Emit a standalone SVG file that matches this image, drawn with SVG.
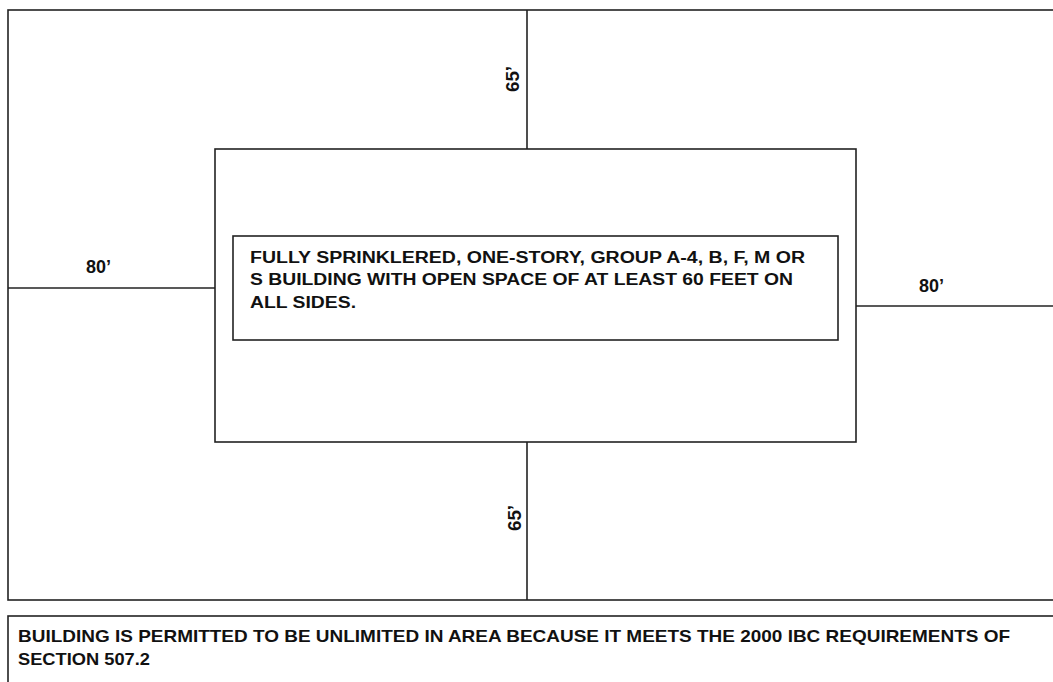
<svg xmlns="http://www.w3.org/2000/svg" width="1053" height="682" viewBox="0 0 1053 682">
<style>
.ln{stroke:#222;stroke-width:1.6;fill:none}
.bx{stroke:#222;stroke-width:1.6;fill:#fff}
.t{font-family:"Liberation Sans",Arial,sans-serif;font-weight:bold;fill:#111;font-size:16px}
.c{font-family:"Liberation Sans",Arial,sans-serif;font-weight:bold;fill:#111;font-size:17px}
.d{font-family:"Liberation Sans",Arial,sans-serif;font-weight:bold;fill:#111;font-size:18px}
</style>
<rect width="1053" height="682" fill="#fff"/>
<g id="site">
<rect class="bx" x="8" y="10" width="1060" height="590"/>
</g>
<g id="connectors">
<line class="ln" x1="527" y1="10" x2="527" y2="149"/>
<line class="ln" x1="527" y1="442" x2="527" y2="600"/>
<line class="ln" x1="8" y1="288" x2="215" y2="288"/>
<line class="ln" x1="856" y1="306" x2="1053" y2="306"/>
</g>
<g id="building">
<rect class="bx" x="215" y="149" width="641" height="293"/>
</g>
<g id="building-note">
<rect class="bx" x="233" y="236" width="605" height="104"/>
<text class="t" x="250" y="263" textLength="555" lengthAdjust="spacingAndGlyphs">FULLY SPRINKLERED, ONE-STORY, GROUP A-4, B, F, M OR</text>
<text class="t" x="250" y="285" textLength="543" lengthAdjust="spacingAndGlyphs">S BUILDING WITH OPEN SPACE OF AT LEAST 60 FEET ON</text>
<text class="t" x="250" y="308" textLength="106" lengthAdjust="spacingAndGlyphs">ALL SIDES.</text>
</g>
<g id="dims">
<text class="d" transform="translate(519,79) rotate(-90)" text-anchor="middle" textLength="26" lengthAdjust="spacingAndGlyphs">65’</text>
<text class="d" transform="translate(521,518) rotate(-90)" text-anchor="middle" textLength="26" lengthAdjust="spacingAndGlyphs">65’</text>
<text class="d" x="86" y="273" textLength="25" lengthAdjust="spacingAndGlyphs">80’</text>
<text class="d" x="919" y="292" textLength="25" lengthAdjust="spacingAndGlyphs">80’</text>
</g>
<g id="caption">
<rect class="bx" x="8" y="616" width="1060" height="80"/>
<text class="c" x="18" y="642" textLength="992" lengthAdjust="spacingAndGlyphs">BUILDING IS PERMITTED TO BE UNLIMITED IN AREA BECAUSE IT MEETS THE 2000 IBC REQUIREMENTS OF</text>
<text class="c" x="18" y="665" textLength="132" lengthAdjust="spacingAndGlyphs">SECTION 507.2</text>
</g>
</svg>
